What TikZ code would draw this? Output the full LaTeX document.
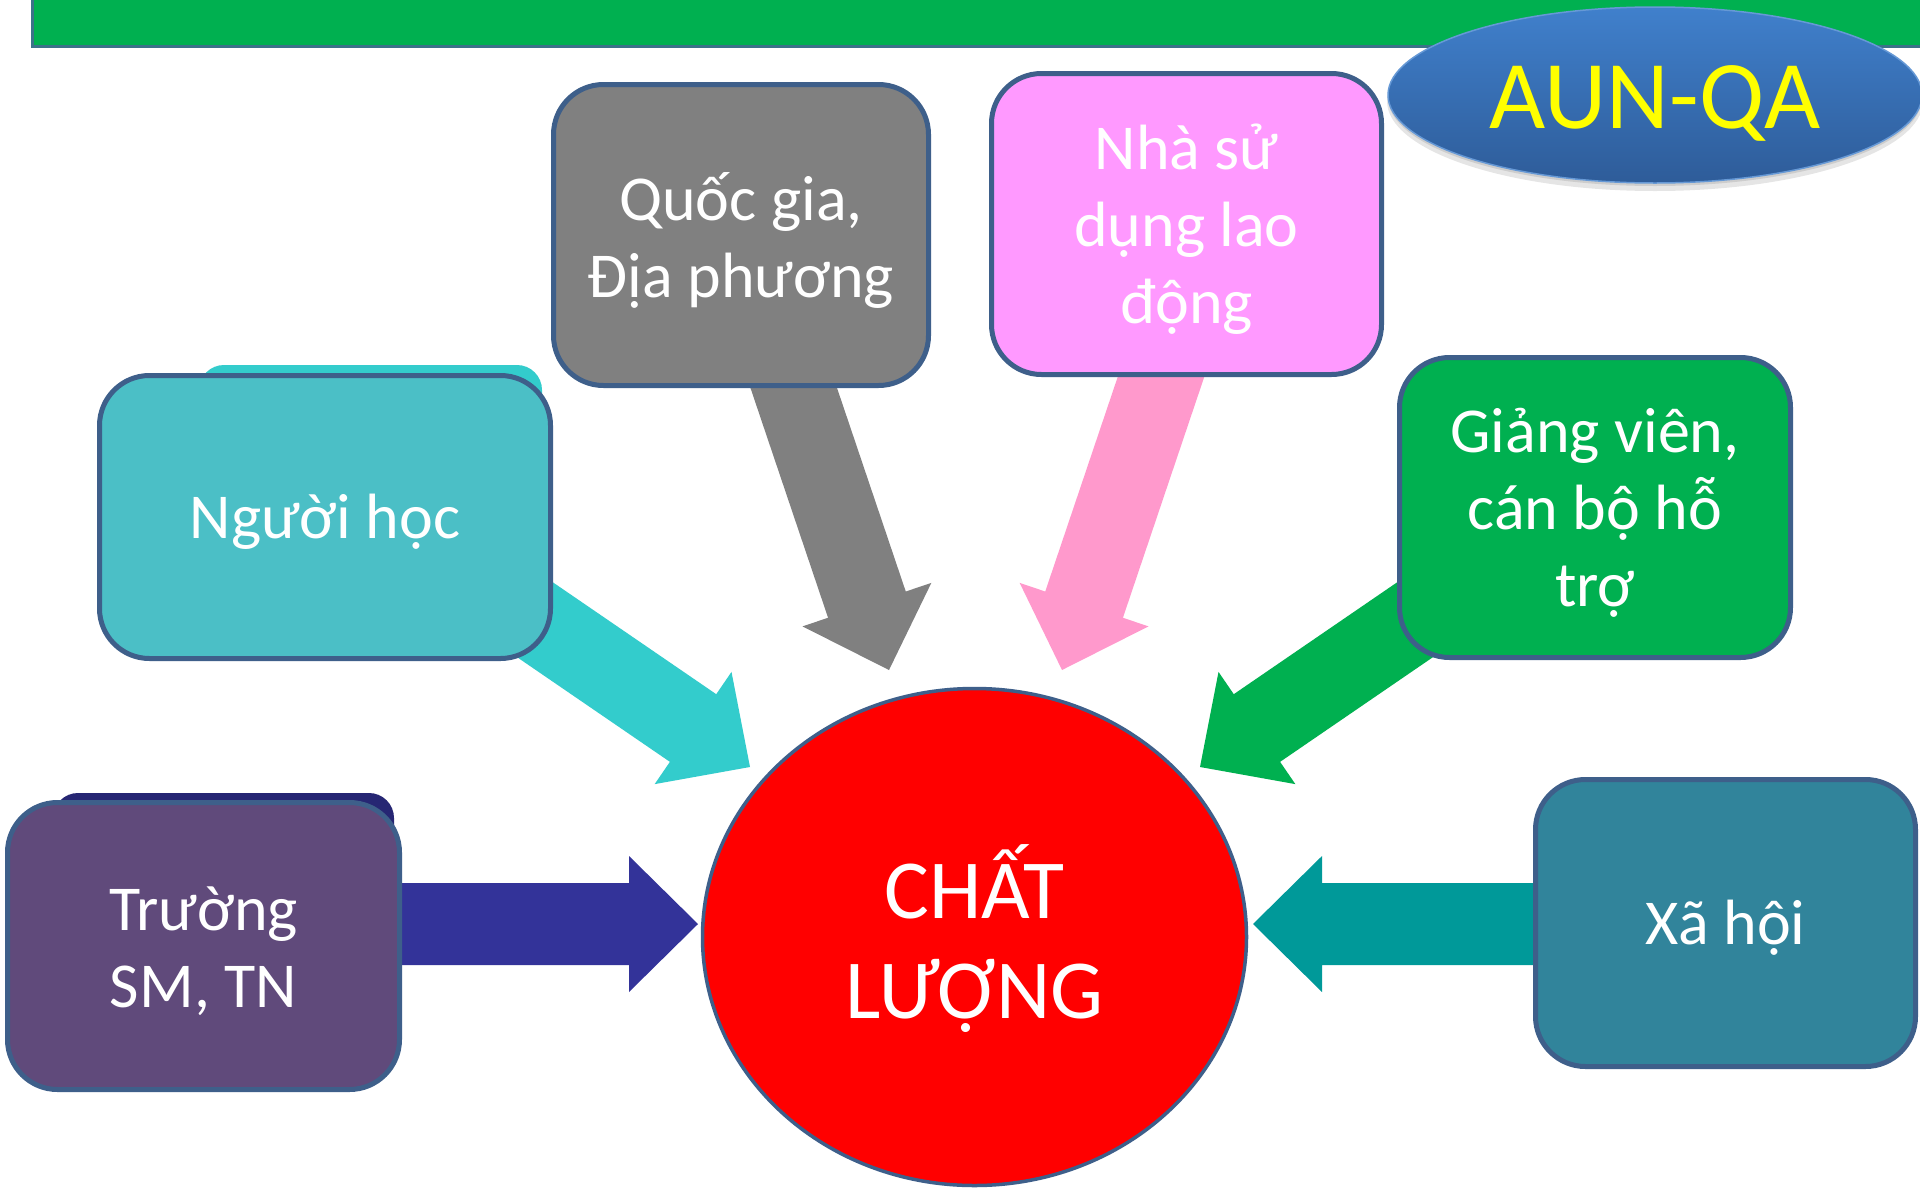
\documentclass[tikz,border=0pt]{standalone}
\usepackage{fontspec}
\setmainfont{Carlito}
\usetikzlibrary{calc,shapes.geometric}
\definecolor{bordc}{HTML}{3E5F8A}
\definecolor{barg}{HTML}{00B050}
\definecolor{barb}{HTML}{3C7289}
\definecolor{grayb}{HTML}{808080}
\definecolor{pinkb}{HTML}{FF99FF}
\definecolor{cyanb}{HTML}{4BBFC6}
\definecolor{cyansh}{HTML}{33CCCC}
\definecolor{greenb}{HTML}{00B050}
\definecolor{purpb}{HTML}{604A7B}
\definecolor{navysh}{HTML}{262673}
\definecolor{tealb}{HTML}{31849B}
\definecolor{pinka}{HTML}{FF99CC}
\definecolor{navya}{HTML}{333399}
\definecolor{teala}{HTML}{009999}
\definecolor{elltop}{HTML}{4080CC}
\definecolor{ellbot}{HTML}{2E5C99}
\definecolor{auny}{HTML}{FFFF00}
\newcommand\blockarrow[3]{%
  \path ($(#2)!69pt!(#1)$) coordinate (bah);
  \fill[#3] ($(#1)!41pt!90:(#2)$) -- ($(bah)!41pt!90:(#2)$) -- ($(bah)!68pt!90:(#2)$)
    -- (#2) -- ($(bah)!68pt!-90:(#2)$) -- ($(bah)!41pt!-90:(#2)$) -- ($(#1)!41pt!-90:(#2)$) -- cycle;}
\begin{document}
\begin{tikzpicture}[x=1pt,y=-1pt,
  box/.style={draw=bordc, line width=5pt, rounded corners=50pt, inner sep=0pt},
  btext/.style={text=white, align=center, font=\fontsize{64}{77}\selectfont, inner sep=0pt, yshift=-5pt},
  shadowbox/.style={rounded corners=25pt}]
\useasboundingbox (0,0) rectangle (1920,1189);
\fill[white] (0,0) rectangle (1920,1189);
% top bar
\fill[barg] (32,-5) rectangle (1925,46);
\draw[barb, line width=3pt] (32,-5) -- (32,46) -- (1925,46);
% AUN-QA ellipse
\fill[black, opacity=0.10] (1655,101) ellipse (268 and 90);
\fill[black, opacity=0.10] (1655,98) ellipse (267 and 88);
\node[ellipse, minimum width=534pt, minimum height=176pt, top color=elltop, bottom color=ellbot,
  draw=elltop!80!white, line width=1.5pt, inner sep=0pt,
  label={[text=auny, font=\fontsize{97}{100}\selectfont, inner sep=0pt, yshift=-8pt]center:AUN-QA}] (aun) at (1655,95) {};
% arrow coordinates
\coordinate (tQ) at (761,291);   \coordinate (hQ) at (889,670);
\coordinate (tN) at (1190,291);  \coordinate (hN) at (1062,670);
\coordinate (tH) at (502.5,597.5); \coordinate (hH) at (750,767);
\coordinate (tG) at (1447.5,597.5); \coordinate (hG) at (1200,767);
\coordinate (tT) at (300,924);   \coordinate (hT) at (698,924);
\coordinate (tX) at (1650,924);  \coordinate (hX) at (1253,924);
% shadows
\fill[cyansh, shadowbox] (199,365) rectangle (542,600);
\fill[navysh, shadowbox] (53,793) rectangle (394,1000);
% arrows
\blockarrow{tQ}{hQ}{grayb}
\blockarrow{tN}{hN}{pinka}
\blockarrow{tH}{hH}{cyansh}
\blockarrow{tG}{hG}{greenb}
\blockarrow{tT}{hT}{navya}
\blockarrow{tX}{hX}{teala}
% boxes
\node[box, fill=grayb, minimum width=375pt, minimum height=301pt,
  label={[btext]center:{Quốc gia,\\Địa phương}}] (qg) at (741,235) {};
\node[box, fill=pinkb, minimum width=390pt, minimum height=301pt,
  label={[btext]center:{Nhà sử\\dụng lao\\động}}] (nsd) at (1186.5,224) {};
\node[box, fill=cyanb, minimum width=451pt, minimum height=283pt,
  label={[btext]center:{Người học}}] (nh) at (325,517) {};
\node[box, fill=greenb, minimum width=391pt, minimum height=300pt,
  label={[btext]center:{Giảng viên,\\cán bộ hỗ\\trợ}}] (gv) at (1595,507.5) {};
\node[box, fill=purpb, minimum width=392pt, minimum height=287pt,
  label={[btext]center:{Trường\\SM, TN}}] (tr) at (203.5,946) {};
\node[box, fill=tealb, minimum width=380pt, minimum height=287pt,
  label={[btext]center:{Xã hội}}] (xh) at (1725.5,923) {};
% circle
\node[ellipse, fill=red, draw=bordc, line width=3.5pt, minimum width=544pt, minimum height=497pt,
  inner sep=0pt, label={[text=white, align=center, inner sep=0pt, yshift=-2pt,
  font=\fontsize{84}{100}\selectfont]center:{CHẤT\\LƯỢNG}}] (cl) at (974.5,937) {};
\end{tikzpicture}
\end{document}
